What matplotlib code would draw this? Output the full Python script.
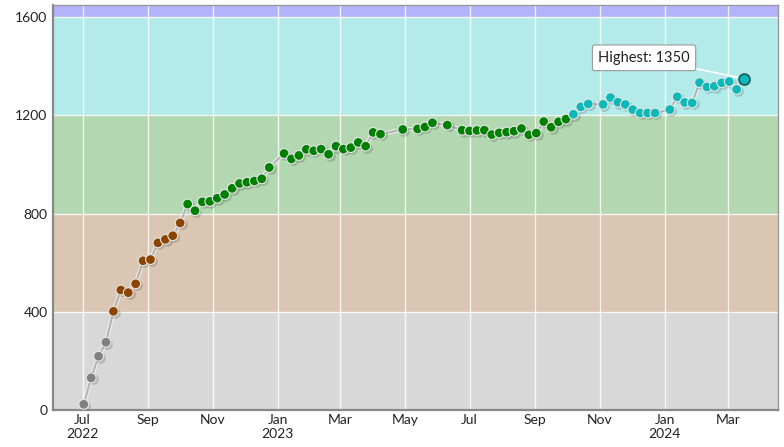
import datetime as dt
import matplotlib
matplotlib.use("Agg")
import matplotlib.pyplot as plt
import matplotlib.patheffects as pe
from matplotlib.transforms import offset_copy

# weekly contest results, counted in weeks from the first one
start = dt.date(2022, 7, 2)
week = [0, 1, 2, 3, 4, 5, 6, 7, 8, 9, 10, 11, 12, 13, 14, 15, 16, 17, 18, 19,
        20, 21, 22, 23, 24, 25, 27, 28, 29, 30, 31, 32, 33, 34, 35, 36, 37, 38,
        39, 40, 43, 45, 46, 47, 49, 51, 52, 53, 54, 55, 56, 57, 58, 59, 60, 61,
        62, 63, 64, 65, 66, 67, 68, 70, 71, 72, 73, 74, 75, 76, 77, 79, 80, 81,
        82, 83, 84, 85, 86, 87, 88, 89]
rating = [23, 131, 219, 276, 402, 489, 478, 514, 608, 613, 681, 695, 710, 762,
          839, 812, 848, 850, 863, 878, 903, 923, 928, 933, 942, 988, 1045, 1023,
          1037, 1062, 1056, 1063, 1042, 1075, 1063, 1069, 1090, 1075, 1131, 1124,
          1143, 1145, 1153, 1170, 1161, 1140, 1137, 1139, 1140, 1122, 1129, 1132,
          1136, 1147, 1121, 1128, 1175, 1152, 1174, 1185, 1205, 1235, 1247, 1245,
          1273, 1254, 1245, 1224, 1210, 1210, 1210, 1224, 1276, 1253, 1251, 1334,
          1316, 1319, 1333, 1338, 1306, 1350]

# rank bands: (low, high, band colour, point colour)
bands = [(0, 400, "#d8d8d8", "#808080"),
         (400, 800, "#dac6b2", "#8b4500"),
         (800, 1200, "#b3d7b0", "#008000"),
         (1200, 1600, "#b3ebeb", "#0cb8b8"),
         (1600, 1650, "#b3b3fb", "#0000ff")]

tick_dates = [dt.date(2022, 7, 1), dt.date(2022, 9, 1), dt.date(2022, 11, 1),
              dt.date(2023, 1, 1), dt.date(2023, 3, 1), dt.date(2023, 5, 1),
              dt.date(2023, 7, 1), dt.date(2023, 9, 1), dt.date(2023, 11, 1),
              dt.date(2024, 1, 1), dt.date(2024, 3, 1)]
tick_labels = ["Jul\n2022", "Sep", "Nov", "Jan\n2023", "Mar", "May", "Jul",
               "Sep", "Nov", "Jan\n2024", "Mar"]
y_ticks = [0, 400, 800, 1200, 1600]

plt.rcParams["font.family"] = ["Lato", "DejaVu Sans"]

dates = [start + dt.timedelta(days=7 * w) for w in week]

fig = plt.figure(figsize=(7.84, 4.47), dpi=100)
ax = fig.add_axes([0.0676, 0.0828, 0.9247, 0.906])

for lo, hi, bg, _ in bands:
    ax.axhspan(lo, hi, color=bg, lw=0, zorder=0)
for lo, hi, _, _ in bands[1:]:
    ax.axhline(lo, color="white", lw=1, alpha=0.8, zorder=1)
for d in tick_dates:
    ax.axvline(d, color="white", lw=1, alpha=0.8, zorder=1)

ax.plot(dates, rating, color="#b4b4b4", lw=1.6, zorder=2,
        path_effects=[pe.Stroke(linewidth=3, foreground="white", alpha=0.7), pe.Normal()])

def point_colour(v):
    for lo, hi, _, c in bands:
        if lo <= v < hi:
            return c
    return bands[-1][3]

cols = [point_colour(v) for v in rating]

# soft shadow under the points
shadow_tr = offset_copy(ax.transData, fig=fig, x=1, y=-1, units="points")
ax.scatter(dates, rating, s=60, c="black", alpha=0.15, lw=0,
           transform=shadow_tr, zorder=2.5)

ax.scatter(dates[:-1], rating[:-1], s=50, c=cols[:-1], edgecolors="#e6e6e6",
           linewidths=0.8, zorder=3)
ax.scatter(dates[-1:], rating[-1:], s=62, c=cols[-1:], edgecolors="#1d5a5a",
           linewidths=1.2, zorder=4)

ax.annotate(f"Highest: {max(rating)}", xy=(dates[-1], rating[-1]),
            xytext=(-72, 15), textcoords="offset points", ha="center",
            va="center", fontsize=10.5, color="#222222", zorder=5,
            bbox=dict(boxstyle="round,pad=0.4,rounding_size=0.15", fc="white",
                      ec="#999999", lw=0.8),
            arrowprops=dict(arrowstyle="-", color="white", lw=1.2,
                            shrinkA=0, shrinkB=5))

ax.set_xlim(dt.date(2022, 6, 3), dt.date(2024, 4, 17))
ax.set_ylim(0, 1650)
ax.set_xticks(tick_dates)
ax.set_xticklabels(tick_labels)
ax.set_yticks(y_ticks)
ax.tick_params(length=0, labelsize=10, colors="#222222", pad=4)
ax.tick_params(axis="x", pad=3)

for side in ["left", "bottom"]:
    ax.spines[side].set_color("#888888")
    ax.spines[side].set_linewidth(1.6)
for side in ["top", "right"]:
    ax.spines[side].set_color("#999999")
    ax.spines[side].set_linewidth(1)

fig.savefig("out.png", dpi=100)
